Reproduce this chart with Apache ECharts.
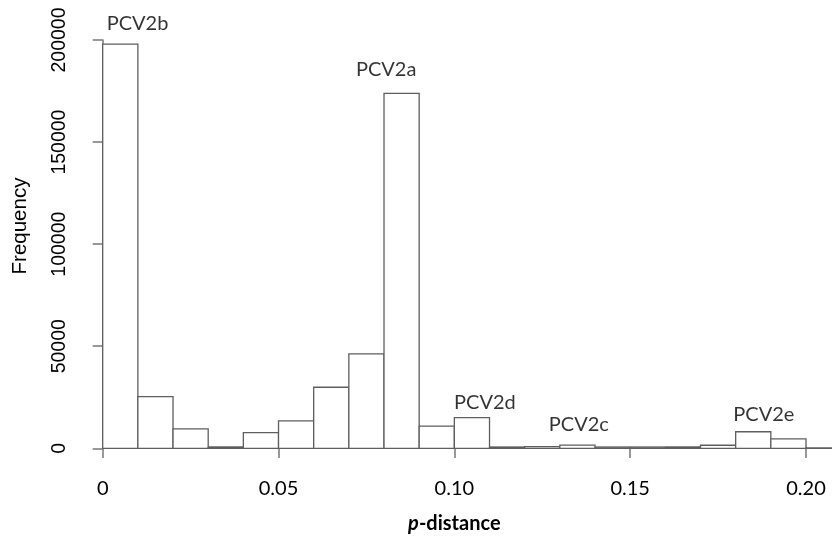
<!DOCTYPE html>
<html>
<head>
<meta charset="utf-8">
<script src="https://cdn.jsdelivr.net/npm/echarts@6/dist/echarts.min.js"></script>
<style>html,body{margin:0;padding:0;background:#fff;}#c{width:832px;height:539px;}</style>
</head>
<body>
<div id="c"></div>
<script>
// Histogram bins (p-distance), width 0.01
var binStarts = [0, 0.01, 0.02, 0.03, 0.04, 0.05, 0.06, 0.07, 0.08, 0.09, 0.10, 0.11, 0.12, 0.13, 0.14, 0.15, 0.16, 0.17, 0.18, 0.19, 0.20, 0.21];
var binWidth = 0.01;
var frequencies = [198000, 25300, 9500, 500, 7700, 13400, 29900, 46300, 173900, 10900, 15000, 300, 800, 1600, 200, 200, 500, 1500, 8100, 4600, 200, 0];
// Genotype annotations (data coordinates)
var labelNames = ['PCV2b', 'PCV2a', 'PCV2d', 'PCV2c', 'PCV2e'];
var labelX = [0.0099, 0.0806, 0.1087, 0.1354, 0.1880];
var labelY = [208300, 185300, 22500, 11400, 16300];
var xTicks = [0, 0.05, 0.10, 0.15, 0.20];
var xTickLabels = ['0', '0.05', '0.10', '0.15', '0.20'];
var yTicks = [0, 50000, 100000, 150000, 200000];

var GL = 102.7, GTOP = 40, GBOT = 539 - 448.3;
var axisPx = 703.3; // width of 0..0.2
var xMaxFull = 0.2 * (832 - GL) / axisPx;

var histData = binStarts.map(function (s, i) { return [s, s + binWidth, frequencies[i]]; });
var labelData = labelNames.map(function (n, i) { return { name: n, value: [labelX[i], labelY[i]] }; });

var chart = echarts.init(document.getElementById('c'), null, { renderer: 'canvas' });
var axisCol = '#777';
var txt = '#000';
chart.setOption({
  backgroundColor: '#fff',
  animation: false,
  grid: [
    { left: GL, right: 0, top: GTOP, bottom: GBOT },
    { left: GL, width: axisPx, top: GTOP, bottom: GBOT }
  ],
  xAxis: [
    { gridIndex: 0, type: 'value', min: 0, max: xMaxFull, show: false },
    {
      gridIndex: 1, type: 'value', min: 0, max: 0.2, interval: 0.05, offset: 15,
      axisLine: { show: true, lineStyle: { color: axisCol, width: 1.5 } },
      axisTick: { show: true, inside: false, length: 11, lineStyle: { color: axisCol, width: 1.5 } },
      splitLine: { show: false },
      axisLabel: {
        margin: 17, fontFamily: 'Lato', fontSize: 20, color: txt,
        formatter: function (v) {
          for (var i = 0; i < xTicks.length; i++) if (Math.abs(v - xTicks[i]) < 1e-9) return xTickLabels[i];
          return '';
        }
      },
      name: '{i|p}{b|-distance}', nameLocation: 'middle', nameGap: 52,
      nameTextStyle: {
        rich: {
          i: { fontFamily: 'Lato', fontSize: 20, fontWeight: 'bold', fontStyle: 'italic', color: txt },
          b: { fontFamily: 'Lato', fontSize: 20, fontWeight: 'bold', color: txt }
        }
      }
    }
  ],
  yAxis: [
    {
      gridIndex: 0, type: 'value', min: yTicks[0], max: yTicks[yTicks.length - 1], interval: 50000, offset: 15,
      axisLine: { show: true, lineStyle: { color: axisCol, width: 1.5 } },
      axisTick: { show: true, inside: false, length: 10, lineStyle: { color: axisCol, width: 1.5 } },
      splitLine: { show: false },
      axisLabel: {
        rotate: 90, margin: 18, fontFamily: 'Liberation Sans', fontSize: 19.5, color: txt,
        formatter: function (v) { return String(v); }
      }
    },
    { gridIndex: 1, type: 'value', min: 0, max: 200000, show: false }
  ],
  graphic: [
    {
      type: 'text', x: 20, y: 226, rotation: Math.PI / 2,
      style: { text: 'Frequency', fontFamily: 'Liberation Sans', fontSize: 20.5, fill: txt, align: 'center', verticalAlign: 'middle' }
    }
  ],
  series: [
    {
      type: 'custom', xAxisIndex: 0, yAxisIndex: 0, clip: false,
      data: histData,
      encode: { x: [0, 1], y: 2 },
      renderItem: function (params, api) {
        var p0 = api.coord([api.value(0), 0]);
        var p1 = api.coord([api.value(1), api.value(2)]);
        return {
          type: 'rect',
          shape: { x: p0[0], y: p1[1], width: p1[0] - p0[0], height: p0[1] - p1[1] },
          style: { fill: '#fff', stroke: '#5e5e5e', lineWidth: 1.3 }
        };
      }
    },
    {
      type: 'scatter', xAxisIndex: 0, yAxisIndex: 0, symbolSize: 0, silent: true, clip: false,
      data: labelData,
      label: {
        show: true, position: 'inside', formatter: '{b}',
        fontFamily: 'Lato', fontSize: 20, color: txt
      }
    }
  ]
});
</script>
</body>
</html>
